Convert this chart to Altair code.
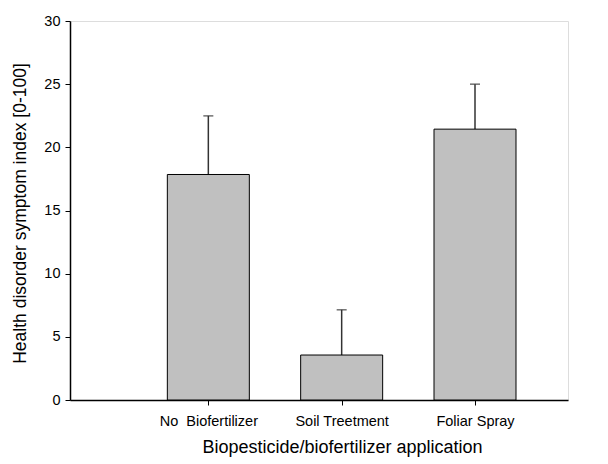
import json
import altair as alt
import pandas as pd

categories = ["No\u00a0 Biofertilizer", "Soil Treetment", "Foliar Spray"]
positions = [1, 2, 3]
means = [17.85, 3.56, 21.44]
errors = [4.64, 3.58, 3.56]

df = pd.DataFrame({
    "cat": categories,
    "pos": positions,
    "mean": means,
    "upper": [m + e for m, e in zip(means, errors)],
})

label_lookup = json.dumps([""] + categories)
FONT = "Liberation Sans"

x_enc = alt.X(
    "pos:Q",
    scale=alt.Scale(domain=[0, 3.66], nice=False, zero=False),
    axis=alt.Axis(
        values=positions,
        labelExpr=f"{label_lookup}[datum.value]",
        title="Biopesticide/biofertilizer application",
        titleX=272, titleY=47, titleBaseline="middle", titleAnchor="start", titleAlign="center",
        titleFontSize=18, titleFontWeight="normal",
        labelFontSize=14.5, labelPadding=9, tickSize=5,
        grid=False, domainColor="black", tickColor="black", labelColor="black",
        titleColor="black", domainWidth=1.5, labelFont=FONT, titleFont=FONT,
    ),
)

y_enc = alt.Y(
    "mean:Q",
    scale=alt.Scale(domain=[0, 30], nice=False),
    axis=alt.Axis(
        values=[0, 5, 10, 15, 20, 25, 30],
        title="Health disorder symptom index [0-100]",
        titleX=-50, titleY=192, titleAngle=-90, titleBaseline="middle", titleAlign="center",
        titleAnchor="start",
        titleFontSize=17.5, titleFontWeight="normal",
        labelFontSize=14.5, labelPadding=5, tickSize=5,
        grid=False, domainColor="black", tickColor="black", labelColor="black",
        titleColor="black", domainWidth=1.5, labelFont=FONT, titleFont=FONT,
    ),
)

bars = alt.Chart(df).mark_bar(
    width=82, color="#c0c0c0", stroke="black", strokeWidth=1
).encode(x=x_enc, y=y_enc)

rules = alt.Chart(df).mark_rule(color="#333333", strokeWidth=1.5).encode(
    x="pos:Q", y="mean:Q", y2="upper:Q"
)

caps = alt.Chart(df).mark_tick(
    orient="horizontal", size=10, thickness=1.5, color="#333333"
).encode(x="pos:Q", y="upper:Q")

chart = (rules + caps + bars).properties(
    width=498, height=379,
    autosize=alt.AutoSizeParams(type="none"),
    padding={"left": 62, "top": 13, "right": 30, "bottom": 60},
).configure_view(stroke=None).configure(background="white")

chart.save("out.html", embed_options={"renderer": "svg", "actions": False})
